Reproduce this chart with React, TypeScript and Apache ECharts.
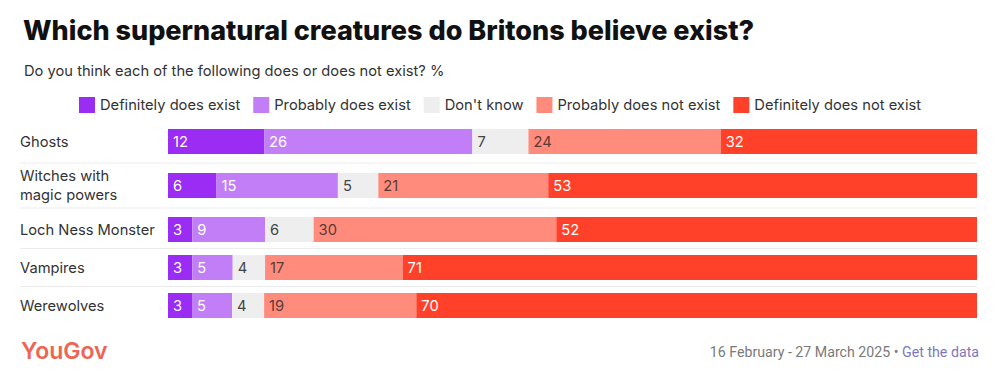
import React, { useEffect, useRef } from "react";
import * as echarts from "echarts";

const categories = [
  "Ghosts",
  "Witches with\nmagic powers",
  "Loch Ness Monster",
  "Vampires",
  "Werewolves",
];
const seriesNames = [
  "Definitely does exist",
  "Probably does exist",
  "Don't know",
  "Probably does not exist",
  "Definitely does not exist",
];
const definitelyExist = [12, 6, 3, 3, 3];
const probablyExist = [26, 15, 9, 5, 5];
const dontKnow = [7, 5, 6, 4, 4];
const probablyNot = [24, 21, 30, 17, 19];
const definitelyNot = [32, 53, 52, 71, 70];

const seriesValues = [definitelyExist, probablyExist, dontKnow, probablyNot, definitelyNot];
const colors = ["#9A2CF4", "#C27EF7", "#EEEEEE", "#FF8B7C", "#FF4129"];
const labelColors = ["#FFFFFF", "#FFFFFF", "#444444", "#5A3A36", "#FFFFFF"];

const rowTops = [129, 173, 217, 255, 293];
const separatorYs = [163, 208, 248.5, 286.5];
const FONT = "Inter, 'Noto Sans', sans-serif";
const FS = 14.7;

export default function App() {
  const ref = useRef<HTMLDivElement>(null);
  useEffect(() => {
    document.body.style.margin = "0";
    if (!ref.current) return;
    const chart = echarts.init(ref.current, undefined, { renderer: "svg" });

    const grids = rowTops.map((t) => ({ left: 168, right: 23, top: t, height: 25 }));
    const xAxes = rowTops.map((_, i) => ({
      type: "value",
      gridIndex: i,
      min: 0,
      max: 100,
      show: false,
    }));
    const yAxes = rowTops.map((_, i) => ({
      type: "category",
      gridIndex: i,
      data: [categories[i]],
      axisLine: { show: false },
      axisTick: { show: false },
      splitLine: { show: false },
      axisLabel: {
        margin: 148,
        align: "left",
        color: "#333",
        fontSize: FS,
        lineHeight: 19,
        fontFamily: FONT,
      },
    }));

    const series: any[] = [];
    categories.forEach((_, i) => {
      const total = seriesValues.reduce((a, arr) => a + arr[i], 0);
      seriesNames.forEach((name, s) => {
        const v = seriesValues[s][i];
        series.push({
          type: "bar",
          name,
          stack: "row" + i,
          xAxisIndex: i,
          yAxisIndex: i,
          barWidth: 25,
          itemStyle: { color: colors[s] },
          label: {
            show: true,
            position: "insideLeft",
            distance: 5,
            formatter: () => String(v),
            color: labelColors[s],
            fontSize: FS,
            fontFamily: FONT,
          },
          data: [(v / total) * 100],
        });
      });
    });

    const graphics: any[] = separatorYs.map((y) => ({
      type: "line",
      shape: { x1: 20, y1: y, x2: 977, y2: y },
      style: { stroke: "#ECECEC", lineWidth: 1 },
      z: -1,
    }));
    graphics.push({
      type: "text",
      left: 21,
      top: 339,
      style: {
        text: "YouGov",
        fill: "#EE6455",
        fontSize: 23,
        fontWeight: 600,
        fontFamily: FONT,
      },
    });
    graphics.push({
      type: "text",
      right: 21,
      top: 345,
      style: {
        text: "{a|16 February - 27 March 2025 • }{b|Get the data}",
        rich: {
          a: { fill: "#7A7A7A", fontSize: 14.2, fontFamily: "'Roboto', sans-serif" },
          b: { fill: "#7E77C0", fontSize: 14.2, fontFamily: "'Roboto', sans-serif" },
        },
      },
    });

    chart.setOption({
      animation: false,
      textStyle: { fontFamily: FONT },
      title: [
        {
          text: "Which supernatural creatures do Britons believe exist?",
          left: 18,
          top: 12,
          textStyle: { fontSize: 27, fontWeight: 800, color: "#111", fontFamily: FONT },
        },
        {
          text: "Do you think each of the following does or does not exist? %",
          left: 19,
          top: 58,
          textStyle: { fontSize: FS, fontWeight: 400, color: "#333", fontFamily: FONT },
        },
      ],
      legend: {
        data: seriesNames,
        left: "center",
        top: 92,
        icon: "rect",
        itemWidth: 16,
        itemHeight: 16,
        itemGap: 13,
        textStyle: { fontSize: FS, color: "#333", fontFamily: FONT },
      },
      grid: grids,
      xAxis: xAxes,
      yAxis: yAxes,
      series,
      graphic: graphics,
    });
    return () => chart.dispose();
  }, []);
  return <div ref={ref} style={{ width: 1000, height: 371 }} />;
}
